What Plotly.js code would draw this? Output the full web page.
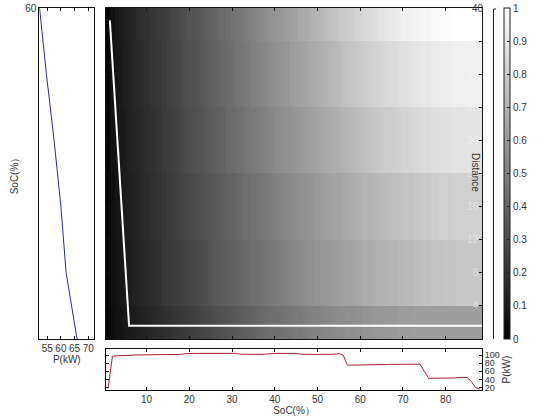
<!DOCTYPE html>
<html>
<head>
<meta charset="utf-8">
<script src="https://cdn.plot.ly/plotly-3.0.1.min.js"></script>
<style>html,body{margin:0;padding:0;background:#fff;}#chart{width:560px;height:420px;}</style>
</head>
<body>
<div id="chart"></div>
<script>
// ---- data ----
var socCols = [];
for (var i = 1; i <= 88; i++) socCols.push(i);
var distRows = [0, 8, 16, 24, 32, 40];

var row0 = [0.02,0.05,0.07,0.08,0.09,0.10,0.11,0.12,0.13,0.14,
0.15,0.16,0.17,0.18,0.19,0.20,0.21,0.22,0.23,0.24,
0.25,0.26,0.27,0.28,0.29,0.30,0.31,0.32,0.33,0.34,
0.35,0.36,0.37,0.38,0.39,0.40,0.41,0.42,0.43,0.44,
0.44,0.45,0.46,0.47,0.48,0.48,0.49,0.50,0.51,0.51,
0.52,0.53,0.53,0.54,0.55,0.55,0.56,0.56,0.57,0.57,
0.58,0.58,0.59,0.59,0.59,0.60,0.60,0.60,0.61,0.61,
0.61,0.61,0.62,0.62,0.62,0.62,0.62,0.62,0.62,0.62,
0.62,0.62,0.62,0.62,0.62,0.62,0.62,0.62];
var row8 = [0.02,0.06,0.07,0.09,0.10,0.11,0.13,0.14,0.15,0.16,
0.17,0.18,0.19,0.21,0.22,0.23,0.24,0.25,0.26,0.27,
0.28,0.29,0.30,0.31,0.32,0.34,0.35,0.36,0.37,0.38,
0.39,0.40,0.41,0.42,0.43,0.44,0.45,0.46,0.47,0.48,
0.49,0.50,0.51,0.52,0.53,0.54,0.55,0.56,0.57,0.58,
0.59,0.59,0.60,0.61,0.62,0.63,0.64,0.64,0.65,0.66,
0.67,0.67,0.68,0.69,0.69,0.70,0.71,0.71,0.72,0.72,
0.73,0.73,0.74,0.74,0.75,0.75,0.76,0.76,0.76,0.77,
0.77,0.77,0.78,0.78,0.78,0.78,0.78,0.78];
var row16 = [0.02,0.06,0.08,0.09,0.11,0.12,0.13,0.14,0.16,0.17,
0.18,0.19,0.20,0.21,0.23,0.24,0.25,0.26,0.27,0.28,
0.29,0.30,0.32,0.33,0.34,0.35,0.36,0.37,0.38,0.39,
0.40,0.41,0.43,0.44,0.45,0.46,0.47,0.48,0.49,0.50,
0.51,0.52,0.53,0.54,0.55,0.56,0.57,0.58,0.59,0.60,
0.61,0.62,0.63,0.64,0.64,0.65,0.66,0.67,0.68,0.69,
0.70,0.70,0.71,0.72,0.73,0.73,0.74,0.75,0.75,0.76,
0.77,0.77,0.78,0.78,0.79,0.79,0.80,0.80,0.81,0.81,
0.81,0.82,0.82,0.82,0.82,0.82,0.82,0.82];
var row24 = [0.02,0.07,0.08,0.10,0.11,0.13,0.14,0.15,0.16,0.18,
0.19,0.20,0.21,0.23,0.24,0.25,0.26,0.27,0.29,0.30,
0.31,0.32,0.33,0.35,0.36,0.37,0.38,0.39,0.41,0.42,
0.43,0.44,0.45,0.47,0.48,0.49,0.50,0.51,0.52,0.54,
0.55,0.56,0.57,0.58,0.59,0.60,0.61,0.62,0.63,0.64,
0.65,0.66,0.67,0.68,0.69,0.70,0.71,0.72,0.73,0.74,
0.75,0.76,0.77,0.78,0.79,0.80,0.80,0.81,0.82,0.83,
0.83,0.84,0.85,0.85,0.86,0.86,0.87,0.87,0.88,0.88,
0.88,0.89,0.89,0.89,0.89,0.89,0.89,0.89];
var row32 = [0.02,0.07,0.09,0.10,0.12,0.13,0.15,0.16,0.17,0.18,
0.20,0.21,0.22,0.23,0.25,0.26,0.27,0.28,0.30,0.31,
0.32,0.33,0.35,0.36,0.37,0.38,0.40,0.41,0.42,0.43,
0.45,0.46,0.47,0.48,0.50,0.51,0.52,0.53,0.55,0.56,
0.57,0.58,0.59,0.61,0.62,0.63,0.64,0.65,0.67,0.68,
0.69,0.70,0.71,0.72,0.73,0.75,0.76,0.77,0.78,0.79,
0.80,0.81,0.82,0.83,0.84,0.85,0.86,0.86,0.87,0.88,
0.88,0.89,0.90,0.90,0.91,0.91,0.92,0.92,0.93,0.93,
0.93,0.94,0.94,0.94,0.94,0.94,0.94,0.94];
var row40 = [0.02,0.07,0.09,0.11,0.12,0.14,0.15,0.17,0.18,0.19,
0.20,0.22,0.23,0.24,0.25,0.27,0.28,0.29,0.30,0.32,
0.33,0.34,0.35,0.37,0.38,0.39,0.41,0.42,0.43,0.45,
0.46,0.47,0.49,0.50,0.51,0.53,0.54,0.55,0.57,0.58,
0.59,0.60,0.62,0.63,0.64,0.66,0.67,0.68,0.70,0.71,
0.72,0.74,0.75,0.76,0.78,0.79,0.80,0.81,0.83,0.84,
0.85,0.86,0.87,0.88,0.89,0.90,0.91,0.92,0.93,0.94,
0.94,0.95,0.96,0.96,0.97,0.97,0.98,0.98,0.99,0.99,
0.99,1.00,1.00,1.00,1.00,1.00,1.00,1.00];

// warping path (SoC column, distance row coordinate)
var pathSoc = [1.4, 5.9, 88.5];
var pathDist = [38.5, 1.6, 1.6];

// left panel: power per row
var leftSoc = [60, 58, 56, 54, 52, 50];
var leftP = [52.2, 54.7, 57.5, 60.0, 61.9, 65.9];

// bottom panel: power per SoC column
var bottomP = [18,97,98,98,99,99,100,100,101,101.5,
101.5,101.5,101.5,101.5,101.5,101.5,101.5,101.5,103,104,
104,104,104,104,104,104,104,104,104,104,
104,102,101.5,101.5,101.5,101.5,101.5,101.5,103,104,
104,104,104,104,104,102,101.5,101.5,101.5,101.5,
101.5,101.5,101.5,102,103.5,100,75,75,75.5,75.5,
76,76,76,76.5,76.5,76.5,77,77,77,77,
77.5,77.5,77.5,77.5,60,43,43,43,43,43,
43,43.5,45,45,45,35,20,16];

var cbVals = [0,0.1,0.2,0.3,0.4,0.5,0.6,0.7,0.8,0.9,1];
var cbText = ['0','0.1','0.2','0.3','0.4','0.5','0.6','0.7','0.8','0.9','1'];
var distTicks = [0,4,8,12,16,20,24,28,32,36,40];
var distText = ['0','4','8','12','16','20','24','28','32','36',''];
var socTicks = [10,20,30,40,50,60,70,80];
var pTicksLeft = [55,60,65,70];
var pTicksBottom = [20,40,60,80,100];

// ---- figure ----
var FAM = 'Liberation Sans, Arial, sans-serif';
var FONT = {family: FAM, size: 10, color: '#333'};
var W = 560, H = 420;
function px(x){return x/W;}
function py(y){return 1 - y/H;}

var mainX = [px(106), px(482)];
var mainY = [py(339), py(8)];

var traces = [
  {type:'heatmap', x: socCols, y: distRows, z:[row0,row8,row16,row24,row32,row40],
   colorscale:[[0,'#000000'],[1,'#ffffff']], zmin:0, zmax:1, xaxis:'x', yaxis:'y',
   hoverinfo:'skip',
   colorbar:{x:px(504), xanchor:'left', y:py(339), yanchor:'bottom', len:331/H, lenmode:'fraction',
     thickness:6, outlinewidth:1, outlinecolor:'#222', ticks:'inside', ticklen:3, tickcolor:'#222',
     tickvals:cbVals, ticktext:cbText, tickfont:FONT, xpad:0, ypad:0}},
  {type:'scatter', mode:'lines', x: pathSoc, y: pathDist, xaxis:'x', yaxis:'y',
   line:{color:'#ffffff', width:2}, hoverinfo:'skip', showlegend:false},
  {type:'scatter', mode:'lines', x: leftP, y: leftSoc, xaxis:'x2', yaxis:'y2',
   line:{color:'#2a2a9a', width:1}, hoverinfo:'skip', showlegend:false},
  {type:'scatter', mode:'lines', x: socCols, y: bottomP, xaxis:'x3', yaxis:'y3',
   line:{color:'#a8202e', width:1}, hoverinfo:'skip', showlegend:false}
];

var axBase = {showline:true, linecolor:'#111', linewidth:1, mirror:'ticks', ticks:'inside',
  ticklen:3, tickcolor:'#111', showgrid:false, zeroline:false, tickfont:FONT, fixedrange:true};
function ax(o){var r = {}; for (var k in axBase) r[k]=axBase[k]; for (var k2 in o) r[k2]=o[k2]; return r;}

var layout = {
  width:W, height:H, margin:{l:0,r:0,t:0,b:0}, paper_bgcolor:'#fff', plot_bgcolor:'#fff',
  font:FONT, showlegend:false,
  xaxis: ax({domain:mainX, range:[0.5,88.5], anchor:'y', tickvals:socTicks, showticklabels:false}),
  yaxis: ax({domain:mainY, range:[0,40], anchor:'x', side:'right', tickvals:distTicks, ticktext:distText,
     ticklabelposition:'inside', tickfont:{family:FAM, size:10, color:'rgba(255,255,255,0.45)'}}),
  xaxis2: ax({domain:[px(39.3), px(94.3)], range:[52.1,72.2], anchor:'y2', tickvals:pTicksLeft,
     title:{text:'P(kW)', font:FONT, standoff:1}}),
  yaxis2: ax({domain:mainY, range:[50,60], anchor:'x2', tickvals:[60], ticks:'',
     title:{text:'SoC(%）', font:FONT, standoff:4}}),
  xaxis3: ax({domain:mainX, range:[0.5,88.5], anchor:'y3', tickvals:socTicks,
     title:{text:'SoC(%）', font:FONT, standoff:2}}),
  yaxis3: ax({domain:[py(390), py(349.3)], range:[14,114], anchor:'x3', side:'right', tickvals:pTicksBottom,
     tickfont:{family:FAM, size:9, color:'#333'},
     title:{text:'P(kW)', font:FONT, standoff:4}}),
  annotations:[
    {xref:'paper', yref:'paper', x:px(478), y:py(8), xanchor:'center', yanchor:'middle', text:'40', showarrow:false, font:{family:FAM,size:10,color:'#444'}},
    {xref:'paper', yref:'paper', x:px(476), y:py(172), xanchor:'center', yanchor:'middle', text:'Distance', textangle:90, showarrow:false, font:FONT}
  ],
  shapes:[
    {type:'line', xref:'paper', yref:'paper', x0:px(493.5), x1:px(493.5), y0:py(339), y1:py(9), line:{color:'#222', width:1}},
    {type:'line', xref:'paper', yref:'paper', x0:px(493.5), x1:px(496), y0:py(9), y1:py(9), line:{color:'#222', width:1}}
  ]
};

Plotly.newPlot('chart', traces, layout, {displayModeBar:false, staticPlot:true});
</script>
</body>
</html>
